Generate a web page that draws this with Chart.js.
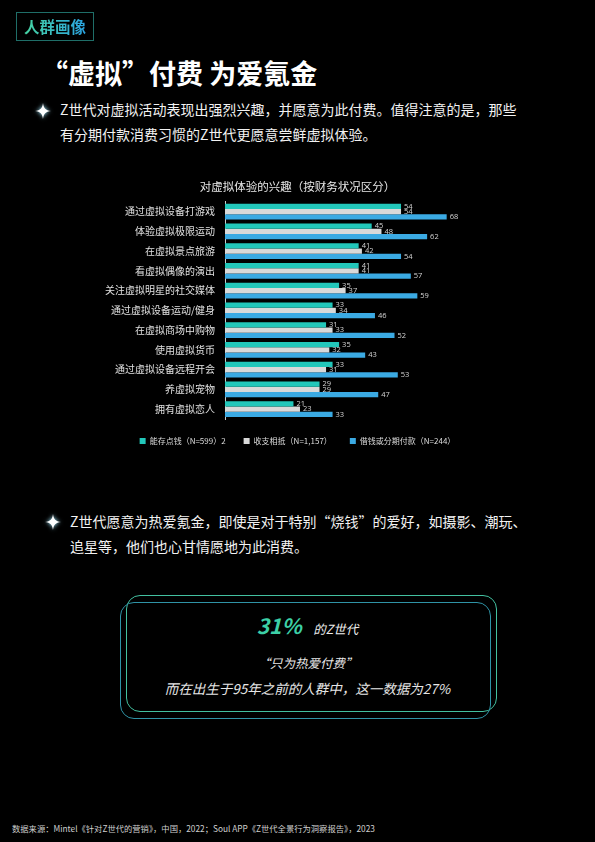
<!DOCTYPE html>
<html>
<head>
<meta charset="utf-8">
<script src="https://cdn.jsdelivr.net/npm/chart.js@4"></script>
<style>
  html, body { margin: 0; padding: 0; background: #000; }
  body { width: 595px; height: 842px; position: relative; overflow: hidden;
         font-family: "Noto Sans CJK SC", sans-serif; color: #fff; }
  .tag { position: absolute; left: 16px; top: 12px; width: 78px; height: 29px;
         border: 1px solid #1f6e68; box-sizing: border-box; text-align: center;
         line-height: 27px; font-size: 15.5px; font-weight: 700; }
  .tag span { background: linear-gradient(90deg, #46d3a2, #2aa3e2);
              -webkit-background-clip: text; background-clip: text; color: transparent; }
  .title { position: absolute; left: 41px; top: 53px; font-size: 27px; font-weight: 700;
           white-space: nowrap; }
  .para { position: absolute; font-size: 14px; line-height: 25px; color: #f2f2f2; white-space: nowrap; }
  .star { position: absolute; width: 16px; height: 16px; filter: drop-shadow(0 0 2px #9fe8ff); }
  #chartBox { position: absolute; left: 0; top: 174px; width: 595px; height: 281px; }
  .frame { position: absolute; border-radius: 14px; box-sizing: border-box; }
  .quote { position: absolute; left: 120px; width: 375px; text-align: center; font-style: italic; white-space: nowrap; }
  .foot { position: absolute; left: 12px; top: 822px; font-size: 8.3px; color: #cfcfcf; white-space: nowrap; }
</style>
</head>
<body>
<div class="tag"><span>人群画像</span></div>
<div class="title">“虚拟”付费 为爱氪金</div>

<svg class="star" style="left:35px;top:103px" viewBox="0 0 16 16"><path d="M8 0 C8.8 5.5 10.5 7.2 16 8 C10.5 8.8 8.8 10.5 8 16 C7.2 10.5 5.5 8.8 0 8 C5.5 7.2 7.2 5.5 8 0Z" fill="#fff"/></svg>
<div class="para" style="left:60px;top:97px">Z世代对虚拟活动表现出强烈兴趣，并愿意为此付费。值得注意的是，那些<br>有分期付款消费习惯的Z世代更愿意尝鲜虚拟体验。</div>

<div id="chartBox"><canvas id="interestChart"></canvas></div>

<svg class="star" style="left:45px;top:514px" viewBox="0 0 16 16"><path d="M8 0 C8.8 5.5 10.5 7.2 16 8 C10.5 8.8 8.8 10.5 8 16 C7.2 10.5 5.5 8.8 0 8 C5.5 7.2 7.2 5.5 8 0Z" fill="#fff"/></svg>
<div class="para" style="left:70px;top:509px">Z世代愿意为热爱氪金，即使是对于特别“烧钱”的爱好，如摄影、潮玩、<br>追星等，他们也心甘情愿地为此消费。</div>

<div class="frame" style="left:126px;top:595px;width:371px;height:117px;border:1.2px solid #43c0a0;"></div>
<div class="frame" style="left:120px;top:602px;width:371px;height:117px;border:1.2px solid #2f93a6;"></div>
<div class="quote" style="top:610px;">
  <span style="font-size:21px;font-weight:700;color:#3ccfa6;">31%</span>
  <span style="font-size:12.5px;color:#eee;margin-left:8px;">的Z世代</span>
</div>
<div class="quote" style="top:653px;font-size:12.5px;color:#e6e6e6;">“只为热爱付费”</div>
<div class="quote" style="top:678px;font-size:13.5px;color:#e6e6e6;">而在出生于95年之前的人群中，这一数据为27%</div>

<div class="foot">数据来源：Mintel《针对Z世代的营销》，中国，2022；Soul APP《Z世代全景行为洞察报告》，2023</div>

<script>
// 数据
const categories = [
  "通过虚拟设备打游戏",
  "体验虚拟极限运动",
  "在虚拟景点旅游",
  "看虚拟偶像的演出",
  "关注虚拟明星的社交媒体",
  "通过虚拟设备运动/健身",
  "在虚拟商场中购物",
  "使用虚拟货币",
  "通过虚拟设备远程开会",
  "养虚拟宠物",
  "拥有虚拟恋人",
];
const seriesNames = ["能存点钱（N=599）2", "收支相抵（N=1,157）", "借钱或分期付款（N=244）"];
const saveMoney = [54, 45, 41, 41, 35, 33, 31, 35, 33, 29, 21];
const breakEven = [54, 48, 42, 41, 37, 34, 33, 32, 31, 29, 23];
const borrowMoney = [68, 62, 54, 57, 59, 46, 52, 43, 53, 47, 33];
const seriesColors = ["#22c7ba", "#d9d9d9", "#3baae3"];

// 柱子末端的数值标签
const valueLabels = {
  id: "valueLabels",
  afterDatasetsDraw(chart) {
    const ctx = chart.ctx;
    ctx.save();
    ctx.font = "7.5px 'Open Sans'";
    ctx.fillStyle = "#d4d4d4";
    ctx.textAlign = "left";
    ctx.textBaseline = "middle";
    chart.data.datasets.forEach((ds, i) => {
      chart.getDatasetMeta(i).data.forEach((bar, j) => {
        ctx.fillText(ds.data[j], bar.x + 3, bar.y);
      });
    });
    ctx.restore();
  },
};

const ctx = document.getElementById("interestChart").getContext("2d");
new Chart(ctx, {
  type: "bar",
  data: {
    labels: categories,
    datasets: [saveMoney, breakEven, borrowMoney].map((values, i) => ({
      label: seriesNames[i],
      data: values,
      backgroundColor: seriesColors[i],
      categoryPercentage: 0.8,
      barPercentage: 1,
    })),
  },
  options: {
    indexAxis: "y",
    responsive: true,
    maintainAspectRatio: false,
    animation: false,
    layout: { padding: 0 },
    plugins: {
      title: {
        display: true,
        text: "对虚拟体验的兴趣（按财务状况区分）",
        color: "#e8e8e8",
        font: { size: 11.5, family: "Noto Sans CJK SC", weight: "normal" },
        padding: { top: 6, bottom: 8 },
      },
      legend: {
        position: "bottom",
        labels: {
          color: "#dddddd",
          font: { size: 8, family: "Noto Sans CJK SC" },
          boxWidth: 6,
          boxHeight: 6,
          padding: 18,
        },
      },
      tooltip: { enabled: false },
    },
    scales: {
      x: { display: false, min: 0, max: 113.5 },
      y: {
        grid: { display: false, drawTicks: false },
        border: { display: true, color: "#cccccc", width: 1 },
        ticks: {
          color: "#e0e0e0",
          font: { size: 10, family: "Noto Sans CJK SC" },
          padding: 10,
        },
        afterFit(scale) {
          scale.width = 225;
        },
      },
    },
  },
  plugins: [valueLabels],
});
</script>
</body>
</html>
